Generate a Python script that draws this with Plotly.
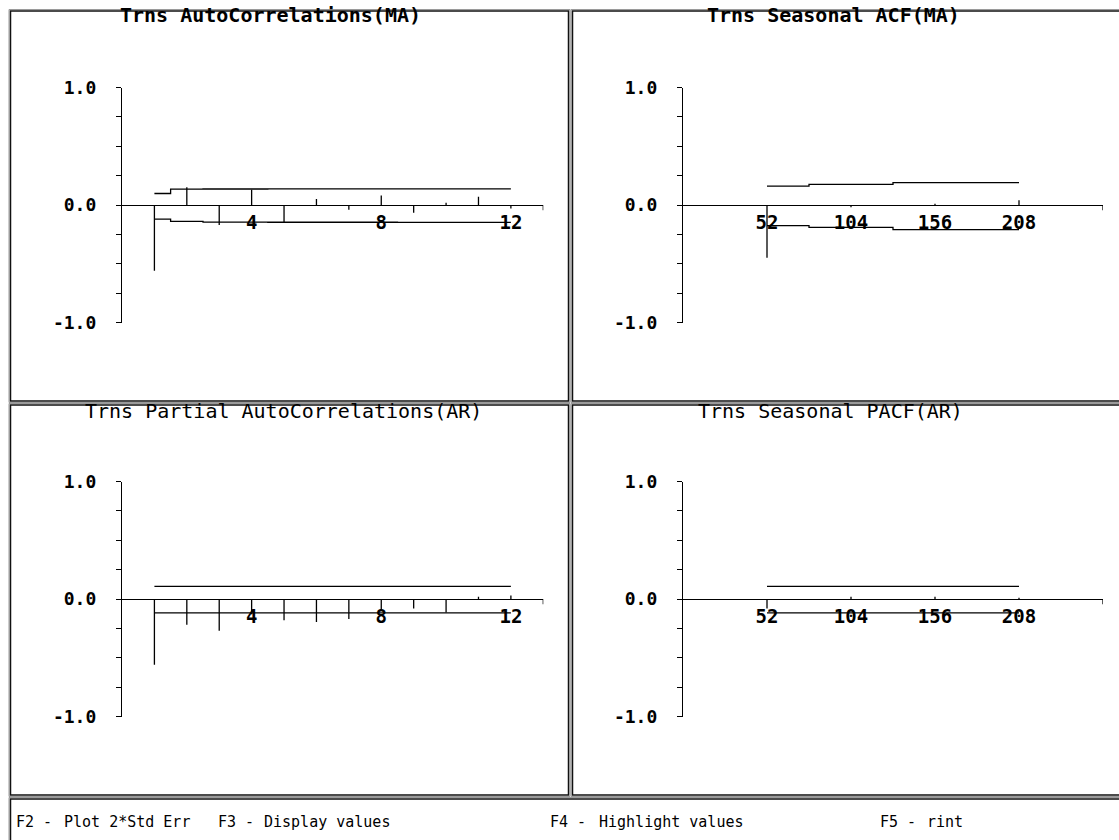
import plotly.graph_objects as go

# ---- data -------------------------------------------------------------
lags = list(range(1, 13))
acf_vals = [-0.56, 0.15, -0.17, 0.13, -0.15, 0.05, -0.04, 0.08, -0.065, 0.02, 0.07, -0.03]
acf_upper = [0.098, 0.135, 0.136, 0.136, 0.137, 0.137, 0.137, 0.137, 0.138, 0.138, 0.138, 0.138]
acf_lower = [-0.12, -0.14, -0.146, -0.146, -0.147, -0.147, -0.147, -0.147, -0.148, -0.148, -0.148, -0.148]

pacf_vals = [-0.56, -0.22, -0.27, -0.13, -0.18, -0.195, -0.17, -0.10, -0.08, -0.115, 0.02, 0.03]
pacf_upper = [0.108] * 12
pacf_lower = [-0.118] * 12

s_lags = [52, 104, 156, 208]
sacf_vals = [-0.45, -0.02, 0.01, 0.04]
sacf_upper = [0.16, 0.175, 0.19, 0.19]
sacf_lower = [-0.175, -0.19, -0.21, -0.21]

spacf_vals = [-0.08, 0.02, 0.02, 0.01]
spacf_upper = [0.108] * 4
spacf_lower = [-0.118] * 4

y_ticks = [-1.0, -0.75, -0.5, -0.25, 0.0, 0.25, 0.5, 0.75, 1.0]
y_ticktext = ["-1.0", "", "", "", "0.0", "", "", "", "1.0"]
lag_ticks = [4, 8, 12]
s_lag_ticks = [52, 104, 156, 208]

titles = [
    "Trns AutoCorrelations(MA)",
    "Trns Seasonal ACF(MA)",
    "Trns Partial AutoCorrelations(AR)",
    "Trns Seasonal PACF(AR)",
]
footer = [
    (14, "F2 -"), (62, "Plot 2*Std Err"),
    (216, "F3 -"), (262, "Display values"),
    (548, "F4 -"), (597, "Highlight values"),
    (878, "F5 -"), (925, "rint"),
]

# ---- layout helpers ---------------------------------------------------
W, H = 1119, 840
# vertical placement of the figure on the page (offset and scale of the drawn area)
Y_OFF, Y_SCALE = 9.5, 0.975


def fx(x):
    return x / W


def fy(y):
    return 1 - ((y - Y_OFF) / Y_SCALE) / H


MONO = "DejaVu Sans Mono"
YTICK_FONT = dict(family=MONO, size=18, color="black", weight="bold")
XTICK_FONT = dict(family=MONO, size=19, color="black", weight="bold")

panels = [
    # (x values, stem values, upper band, lower band, x ticks, x range, x px span, y px span)
    (lags, acf_vals, acf_upper, acf_lower, lag_ticks, [0, 13], (122, 543.3), (86, 321)),
    (s_lags, sacf_vals, sacf_upper, sacf_lower, s_lag_ticks, [0, 260], (683, 1103), (86, 321)),
    (lags, pacf_vals, pacf_upper, pacf_lower, lag_ticks, [0, 13], (122, 543.3), (480, 715)),
    (s_lags, spacf_vals, spacf_upper, spacf_lower, s_lag_ticks, [0, 260], (683, 1103), (480, 715)),
]

fig = go.Figure()
layout = dict(
    width=W, height=H,
    margin=dict(l=0, r=0, t=0, b=0),
    paper_bgcolor="white", plot_bgcolor="rgba(0,0,0,0)",
    showlegend=False,
)
shapes = []

for i, (xs, vals, up, lo, xt, xr, (xa, xb), (ya, yb)) in enumerate(panels, start=1):
    xn = "x" if i == 1 else f"x{i}"
    yn = "y" if i == 1 else f"y{i}"
    xkey = "xaxis" if i == 1 else f"xaxis{i}"
    ykey = "yaxis" if i == 1 else f"yaxis{i}"

    # stems from zero to each correlation value
    sx, sy = [], []
    for lag, v in zip(xs, vals):
        sx += [lag, lag, None]
        sy += [0, v, None]
    fig.add_trace(go.Scatter(x=sx, y=sy, mode="lines", xaxis=xn, yaxis=yn,
                             line=dict(color="black", width=1.3), hoverinfo="skip"))
    # 2*std err bands
    for band in (up, lo):
        fig.add_trace(go.Scatter(x=xs, y=band, mode="lines", xaxis=xn, yaxis=yn,
                                 line=dict(color="black", width=1.3, shape="hvh"),
                                 hoverinfo="skip"))

    zero_py = (ya + yb) / 2
    layout[xkey] = dict(
        domain=[fx(xa), fx(xb)], range=xr, anchor="free", position=fy(zero_py),
        showline=True, linecolor="black", linewidth=1.3, showgrid=False, zeroline=False,
        tickmode="array", tickvals=xt, ticktext=[str(t) for t in xt],
        ticks="", ticklabelstandoff=0, tickfont=XTICK_FONT,
    )
    layout[ykey] = dict(
        domain=[fy(yb), fy(ya)], range=[-1, 1], anchor=xn,
        showline=True, linecolor="black", linewidth=1.3, showgrid=False, zeroline=False,
        tickmode="array", tickvals=y_ticks, ticktext=y_ticktext,
        ticks="outside", ticklen=5, tickcolor="black", tickwidth=1.3,
        ticklabelstandoff=16, tickfont=YTICK_FONT,
    )
    # small end tick closing the lag axis
    shapes.append(dict(type="line", xref=xn, yref=yn, x0=xr[1], x1=xr[1], y0=0, y1=-0.045,
                       line=dict(color="black", width=1.3)))

# panel frames (double bevel lines)
frames = [
    (10, 9, 569, 400), (572, 9, 1130, 400),
    (10, 403, 569, 794), (572, 403, 1130, 794),
    (10, 797, 1130, 860),
]
for x0, y0, x1, y1 in frames:
    shapes.append(dict(type="rect", xref="paper", yref="paper",
                       x0=fx(x0 - 1), x1=fx(x1 + 1), y0=fy(y1 + 1), y1=fy(y0 - 1),
                       line=dict(color="#9a9a9a", width=1)))
    shapes.append(dict(type="rect", xref="paper", yref="paper",
                       x0=fx(x0 + 0.5), x1=fx(x1 - 0.5), y0=fy(y1 - 0.5), y1=fy(y0 + 0.5),
                       line=dict(color="#111111", width=1.5)))
layout["shapes"] = shapes

annotations = []
title_pos = [(270, 14, True), (833, 14, True), (283, 409, False), (830, 409, False)]
for text, (cx, cy, bold) in zip(titles, title_pos):
    annotations.append(dict(
        text=text, xref="paper", yref="paper", x=fx(cx), y=fy(cy),
        xanchor="center", yanchor="middle", showarrow=False,
        font=dict(family=MONO, size=20, color="black", weight="bold" if bold else "normal"),
    ))
for x, text in footer:
    annotations.append(dict(
        text=text, xref="paper", yref="paper", x=fx(x), y=fy(820),
        xanchor="left", yanchor="middle", showarrow=False,
        font=dict(family=MONO, size=15, color="black"),
    ))
layout["annotations"] = annotations

fig.update_layout(**layout)
fig.write_html("out.html")
